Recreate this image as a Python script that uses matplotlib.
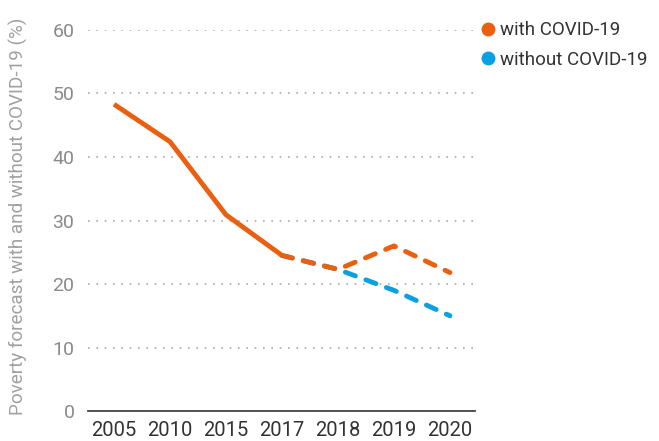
import matplotlib.pyplot as plt
from matplotlib.lines import Line2D

plt.rcParams['font.family'] = ['Roboto', 'DejaVu Sans']

years = ['2005', '2010', '2015', '2017', '2018', '2019', '2020']
with_covid_hist = [48.3, 42.4, 30.9, 24.5]
with_covid_fcst = [24.5, 22.3, 26.0, 21.8]
without_covid_fcst = [24.5, 22.3, 19.0, 15.0]

orange = '#ea6010'
blue = '#0aa0e2'

fig = plt.figure(figsize=(6.59, 4.41), dpi=100)
ax = fig.add_axes([0.134, 0.068, 0.587, 0.864])

x = list(range(len(years)))
ax.plot(x[3:], without_covid_fcst, color=blue, lw=3.5, linestyle=(0, (2.2, 2.3)),
        dash_capstyle='round')
ax.plot(x[3:], with_covid_fcst, color=orange, lw=3.5, linestyle=(0, (2.2, 2.3)),
        dash_capstyle='round')
ax.plot(x[:4], with_covid_hist, color=orange, lw=3.5, solid_capstyle='butt')

ax.set_xlim(-0.46, 6.45)
ax.set_ylim(0, 60)
ax.set_xticks(x)
ax.set_xticklabels(years)
ax.set_yticks(range(0, 61, 10))
ax.yaxis.grid(True, linestyle=(0, (1, 4)), color='#aaaaaa', lw=1.2)
ax.set_axisbelow(True)

for s in ['top', 'right', 'left']:
    ax.spines[s].set_visible(False)
ax.spines['bottom'].set_color('#444444')
ax.spines['bottom'].set_linewidth(1.3)

ax.tick_params(axis='y', length=0, pad=10, labelsize=14, labelcolor='#8a8a8a')
ax.tick_params(axis='x', length=0, pad=7, labelsize=14.5, labelcolor='#333333')
ax.set_ylabel('Poverty forecast with and without COVID-19 (%)', color='#a0a0a0',
              fontsize=13.6)
ax.yaxis.set_label_coords(-0.155, 0.512)

handles = [Line2D([], [], marker='o', color=orange, lw=0, markersize=9),
           Line2D([], [], marker='o', color=blue, lw=0, markersize=9)]
fig.legend(handles, ['with COVID-19', 'without COVID-19'], loc='upper left',
           bbox_to_anchor=(0.70, 0.99), frameon=False, fontsize=13.5,
           labelcolor='#333333', handletextpad=0.05, handlelength=1.1,
           labelspacing=0.6)

plt.savefig('out.png')
